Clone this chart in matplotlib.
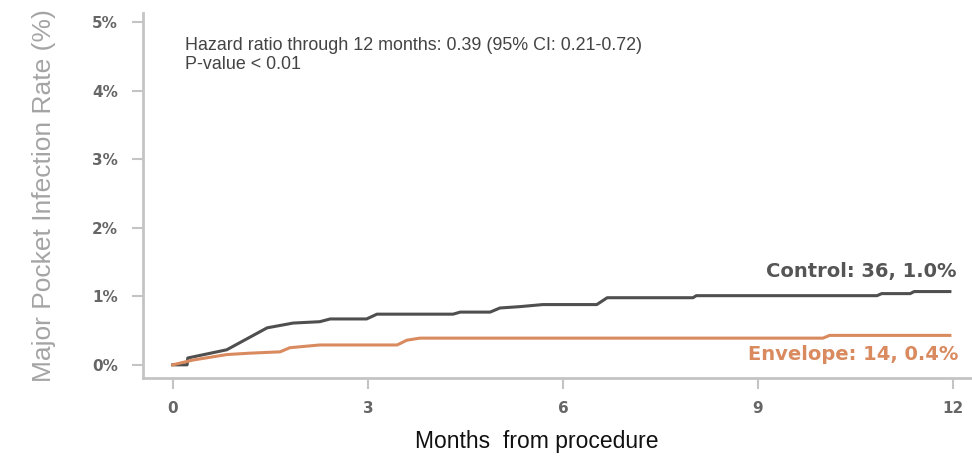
import matplotlib.pyplot as plt

plt.rcParams['font.family'] = ['Liberation Sans', 'DejaVu Sans']

# Kaplan-Meier style cumulative incidence
control_months = [0, 0.22, 0.23, 0.83, 1.45, 1.85, 2.26, 2.42, 2.98, 3.14, 4.31, 4.42,
                  4.88, 5.03, 5.34, 5.69, 6.52, 6.68, 8.0, 8.05, 10.83, 10.9, 11.34, 11.4, 11.95]
control_rate = [0, 0, 0.10, 0.22, 0.54, 0.61, 0.63, 0.67, 0.67, 0.74, 0.74, 0.77,
                0.77, 0.83, 0.85, 0.88, 0.88, 0.98, 0.98, 1.01, 1.01, 1.04, 1.04, 1.07, 1.07]

envelope_months = [0, 0.31, 0.83, 1.18, 1.65, 1.8, 2.26, 3.45, 3.6, 3.8, 10.0, 10.1, 11.95]
envelope_rate = [0, 0.07, 0.15, 0.17, 0.19, 0.25, 0.29, 0.29, 0.36, 0.39, 0.39, 0.43, 0.43]

y_ticks = [0, 1, 2, 3, 4, 5]
y_labels = ['0%', '1%', '2%', '3%', '4%', '5%']
x_ticks = [0, 3, 6, 9, 12]

grey_line = '#4f4f4f'
orange = '#d98a5f'

fig = plt.figure(figsize=(9.72, 4.58), dpi=100)
ax = fig.add_axes([0.147, 0.175, 0.853, 0.797])

ax.plot(control_months, control_rate, color=grey_line, linewidth=2.2)
ax.plot(envelope_months, envelope_rate, color=orange, linewidth=2.2)

ax.set_xlim(-0.46, 12.29)
ax.set_ylim(-0.19, 5.14)
ax.set_xticks(x_ticks)
ax.set_yticks(y_ticks)
ax.set_yticklabels(y_labels)

for side in ['top', 'right']:
    ax.spines[side].set_visible(False)
for side in ['left', 'bottom']:
    ax.spines[side].set_color('#c4c4c4')
    ax.spines[side].set_linewidth(2)
ax.tick_params(colors='#c4c4c4', width=1.5, length=8, labelcolor='#666666')
ax.tick_params(axis='y', pad=10)
ax.tick_params(axis='x', pad=9)
for lab in ax.get_xticklabels() + ax.get_yticklabels():
    lab.set_family('DejaVu Sans')
    lab.set_fontweight('bold')
    lab.set_fontsize(11)

ax.set_ylabel('Major Pocket Infection Rate (%)', fontsize=19, color='#a4a4a4', labelpad=26)
ax.set_xlabel('Months  from procedure', fontsize=16.5, color='#111111', labelpad=10, x=0.475)

ax.text(0.18, 4.67, 'Hazard ratio through 12 months: 0.39 (95% CI: 0.21-0.72)',
        fontsize=12.9, color='#444444', va='center')
ax.text(0.18, 4.39, 'P-value < 0.01', fontsize=12.9, color='#444444', va='center')

ax.text(12.05, 1.37, 'Control: 36, 1.0%', fontsize=14, fontweight='bold',
        family='DejaVu Sans', color='#555555', ha='right', va='center')
ax.text(12.08, 0.15, 'Envelope: 14, 0.4%', fontsize=14, fontweight='bold',
        family='DejaVu Sans', color=orange, ha='right', va='center')

plt.savefig('out.png', dpi=100)
